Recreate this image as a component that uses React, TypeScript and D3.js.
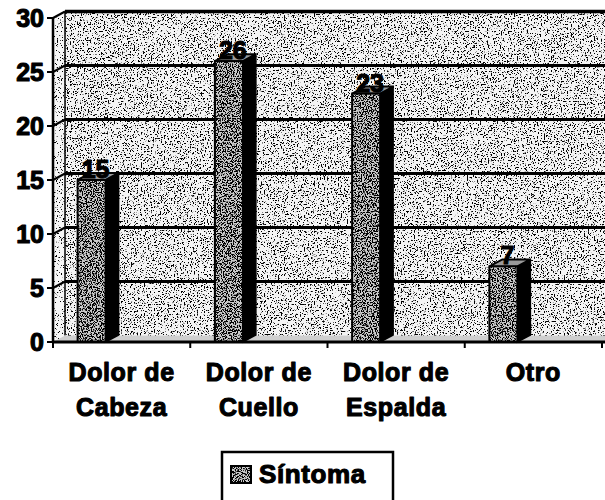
import React from "react";
import * as d3 from "d3";

const categories: string[][] = [
  ["Dolor de", "Cabeza"],
  ["Dolor de", "Cuello"],
  ["Dolor de", "Espalda"],
  ["Otro"],
];
const values: number[] = [15, 26, 23, 7];
const yTicks: number[] = [0, 5, 10, 15, 20, 25, 30];
const seriesName = "Síntoma";

const W = 605;
const H = 500;
const FONT = "'Liberation Sans', Arial, Helvetica, sans-serif";

export default function App() {
  const x0 = 53;
  const x1 = 602;
  const y = d3.scaleLinear().domain([0, 30]).range([342, 18]);
  const x = d3
    .scaleBand<number>()
    .domain(categories.map((_, i) => i))
    .range([x0, x1])
    .padding(0);
  const wdx = 12;
  const wdy = -6.5;
  const bdx = 13;
  const bdy = -7;
  const bw = x.bandwidth();
  const center = (i: number) => (x(i) as number) + bw / 2;

  const textProps = {
    fontFamily: FONT,
    fontWeight: "bold" as const,
    fill: "#000",
    stroke: "#000",
    strokeWidth: 1.1,
    strokeLinejoin: "round" as const,
  };

  return (
    <svg
      width={W}
      height={H}
      style={{ position: "absolute", left: 0, top: 0, background: "#fff" }}
    >
      <defs>
        <filter id="speckLight" x="0" y="0" width="100%" height="100%">
          <feTurbulence type="fractalNoise" baseFrequency="0.7" numOctaves="4" seed="4" result="n" />
          <feColorMatrix
            in="n"
            type="matrix"
            values="0 0 0 0 0  0 0 0 0 0  0 0 0 0 0  -14 0 0 0 5.9"
          />
        </filter>
        <filter id="speckDark" x="0" y="0" width="100%" height="100%">
          <feTurbulence type="fractalNoise" baseFrequency="0.8" numOctaves="3" seed="9" result="n" />
          <feColorMatrix
            in="n"
            type="matrix"
            values="0 0 0 0 0  0 0 0 0 0  0 0 0 0 0  -12 0 0 0 6.3"
          />
        </filter>
        <filter id="speckSide" x="0" y="0" width="100%" height="100%">
          <feTurbulence type="fractalNoise" baseFrequency="0.8" numOctaves="2" seed="2" result="n" />
          <feColorMatrix
            in="n"
            type="matrix"
            values="0 0 0 0 0  0 0 0 0 0  0 0 0 0 0  -14 0 0 0 5.2"
          />
        </filter>
        <clipPath id="sideClip">
          <path
            d={`M${x0},${y(30)} L${x0 + wdx},${y(30) + wdy} L${x0 + wdx},${y(0) + wdy} L${x0},${y(0)} Z`}
          />
        </clipPath>
      </defs>

      {/* back wall */}
      <rect
        x={x0 + wdx}
        y={y(30) + wdy}
        width={W - x0 - wdx}
        height={y(0) - y(30)}
        fill="#f4f4f4"
      />
      <rect
        x={x0 + wdx}
        y={y(30) + wdy}
        width={W - x0 - wdx}
        height={y(0) - y(30)}
        fill="#000"
        filter="url(#speckLight)"
      />
      {/* side wall */}
      <g clipPath="url(#sideClip)">
        <rect x={x0} y={y(30) + wdy} width={wdx} height={y(0) - y(30) + 10} fill="#f6f6f6" />
        <rect
          x={x0}
          y={y(30) + wdy}
          width={wdx}
          height={y(0) - y(30) + 10}
          fill="#000"
          filter="url(#speckSide)"
        />
      </g>
      <line
        x1={x0 + wdx}
        x2={x0 + wdx}
        y1={y(30) + wdy}
        y2={y(0) + wdy}
        stroke="#000"
        strokeWidth={1.5}
      />

      {/* floor */}
      <path
        d={`M${x0},${y(0)} L${x0 + wdx},${y(0) + wdy} L${W},${y(0) + wdy} L${W},${y(0)} Z`}
        fill="#cfcfcf"
      />

      {/* gridlines */}
      {yTicks
        .filter((t) => t > 0)
        .map((t) => (
          <g key={"g" + t}>
            <line
              x1={x0}
              y1={y(t)}
              x2={x0 + wdx}
              y2={y(t) + wdy}
              stroke="#000"
              strokeWidth={2}
            />
            <line
              x1={x0 + wdx}
              y1={y(t) + wdy}
              x2={W}
              y2={y(t) + wdy}
              stroke="#000"
              strokeWidth={t === 30 ? 3.5 : 3}
            />
          </g>
        ))}

      {/* bars */}
      {values.map((v, i) => {
        const c = center(i);
        const fl = c - 44;
        const fr = c - 16;
        const top = y(v);
        const base = y(0);
        return (
          <g key={"b" + i}>
            <path
              d={`M${fr},${top} L${fr + bdx},${top + bdy} L${fr + bdx},${base + bdy} L${fr},${base} Z`}
              fill="#000"
              stroke="#000"
              strokeWidth={1.5}
            />
            <path
              d={`M${fl},${top} L${fr},${top} L${fr + bdx},${top + bdy} L${fl + bdx},${top + bdy} Z`}
              fill="#9a9a9a"
              stroke="#000"
              strokeWidth={2}
            />
            <rect x={fl} y={top} width={fr - fl} height={base - top} fill="#cacaca" />
            <rect
              x={fl}
              y={top}
              width={fr - fl}
              height={base - top}
              fill="#000"
              filter="url(#speckDark)"
            />
            <rect
              x={fl}
              y={top}
              width={fr - fl}
              height={base - top}
              fill="none"
              stroke="#000"
              strokeWidth={2}
            />
          </g>
        );
      })}

      {/* axes */}
      <line x1={x0} x2={x0} y1={y(30)} y2={y(0)} stroke="#000" strokeWidth={2.5} />
      <line x1={x0} x2={x1 + 3} y1={y(0)} y2={y(0)} stroke="#000" strokeWidth={3} />
      {yTicks.map((t) => (
        <g key={"t" + t}>
          <line x1={x0 - 6} x2={x0} y1={y(t)} y2={y(t)} stroke="#000" strokeWidth={2} />
          <text x={44} y={y(t)} dy="0.36em" textAnchor="end" fontSize={25} {...textProps}>
            {t}
          </text>
        </g>
      ))}
      {categories.map((_, i) => (
        <line
          key={"xt" + i}
          x1={(x(i) as number) + bw}
          x2={(x(i) as number) + bw}
          y1={y(0)}
          y2={y(0) + 6}
          stroke="#000"
          strokeWidth={2}
        />
      ))}
      <line x1={x0} x2={x0} y1={y(0)} y2={y(0) + 6} stroke="#000" strokeWidth={2} />

      {/* category labels */}
      {categories.map((lines, i) => (
        <text
          key={"c" + i}
          x={center(i)}
          y={380}
          textAnchor="middle"
          fontSize={25}
          letterSpacing={0.6}
          {...textProps}
        >
          {lines.map((l, j) => (
            <tspan key={j} x={center(i)} y={381 + j * 35}>
              {l}
            </tspan>
          ))}
        </text>
      ))}

      {/* data labels */}
      {values.map((v, i) => (
        <text
          key={"l" + i}
          x={center(i) - 26}
          y={y(v) - 2}
          textAnchor="middle"
          fontSize={25}
          {...textProps}
        >
          {v}
        </text>
      ))}

      {/* legend */}
      <rect x={222} y={452} width={171} height={52} fill="#fff" stroke="#000" strokeWidth={2.5} />
      <rect x={231} y={466} width={20} height={17} fill="#cacaca" />
      <rect x={231} y={466} width={20} height={17} fill="#000" filter="url(#speckDark)" />
      <rect x={231} y={466} width={20} height={17} fill="none" stroke="#000" strokeWidth={2} />
      <text x={259} y={483} fontSize={26} letterSpacing={0.6} {...textProps}>
        {seriesName}
      </text>
    </svg>
  );
}
